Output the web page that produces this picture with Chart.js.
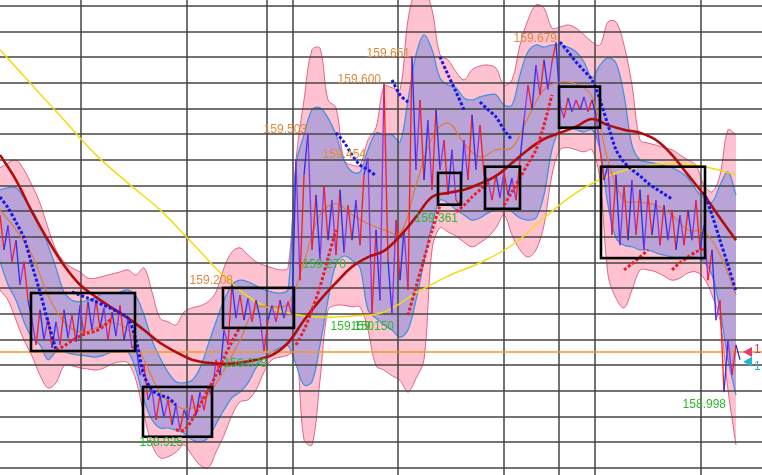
<!DOCTYPE html>
<html><head><meta charset="utf-8">
<script src="https://cdn.jsdelivr.net/npm/chart.js@4.4.0/dist/chart.umd.min.js"></script>
<style>html,body{margin:0;padding:0;background:#fff;overflow:hidden}#wrap{width:762px;height:475px}</style>
</head><body><div id="wrap"><canvas id="c" width="762" height="475"></canvas></div>
<script>
const _ = null;
// time axis: bar index (x) ; value axis: price
const vLines = [20.2, 46.7, 66.7, 73.2, 99.6, 126, 139.8, 148.8, 175.3];
const gridPrices = [158.85,158.90,158.95,159.00,159.05,159.10,159.15,159.20,159.25,159.30,159.35,159.40,159.45,159.50,159.55,159.60,159.65,159.70,159.75];

// envelope bands, one value every 2 bars
const upperOuter = [159.435,159.444,159.450,159.431,159.401,159.366,159.318,159.275,159.252,159.240,159.232,159.220,159.220,159.224,159.228,159.232,159.236,159.226,159.240,159.193,159.142,159.135,159.129,159.154,159.162,159.166,159.174,159.193,159.240,159.271,159.279,159.265,159.252,159.245,159.240,159.236,159.240,
159.450,159.567,159.665,159.668,159.567,159.552,159.450,159.440,159.440,159.489,159.513,159.594,159.591,159.587,159.723,159.781,159.781,159.743,159.655,159.645,159.622,159.606,159.626,159.633,159.635,159.629,159.596,159.606,159.674,159.723,159.752,159.746,159.707,159.709,159.713,159.707,159.694,159.680,159.674,159.719,159.719,159.674,159.596,159.489,159.483,159.479,159.474,159.470,159.460,159.450,159.440,159.401,159.388,159.421,159.509,159.499];
const lowerOuter = [159.197,159.177,159.138,159.099,159.068,159.031,159.006,159.016,159.049,159.049,159.045,159.043,159.041,159.045,159.053,159.057,159.055,159.021,158.953,158.895,158.870,158.872,158.881,158.895,158.875,158.856,158.850,158.881,158.914,158.953,158.979,158.983,159.002,159.037,159.061,159.066,159.070,
159.080,158.905,158.895,159.021,159.158,159.167,159.167,159.164,159.164,159.119,159.049,159.041,159.030,159.021,158.998,159.025,159.061,159.275,159.318,159.310,159.302,159.290,159.281,159.289,159.300,159.318,159.343,159.304,159.275,159.261,159.275,159.323,159.421,159.470,159.474,159.470,159.466,159.470,159.411,159.226,159.181,159.162,159.197,159.236,159.236,159.232,159.224,159.216,159.220,159.230,159.232,159.220,159.187,159.138,159.002,158.895];
const upperInner = [159.392,159.396,159.396,159.376,159.353,159.323,159.284,159.240,159.193,159.177,159.174,159.177,159.183,159.191,159.191,159.193,159.197,159.185,159.148,159.099,159.065,159.037,159.018,159.016,159.021,159.045,159.090,159.135,159.177,159.207,159.216,159.213,159.205,159.197,159.193,159.191,159.197,
159.440,159.499,159.548,159.552,159.532,159.499,159.450,159.427,159.427,159.470,159.503,159.499,159.499,159.485,159.567,159.655,159.694,159.665,159.610,159.596,159.591,159.571,159.567,159.573,159.577,159.577,159.557,159.557,159.616,159.661,159.674,159.670,159.674,159.674,159.670,159.661,159.641,159.610,159.635,159.649,159.639,159.577,159.479,159.450,159.446,159.443,159.439,159.435,159.427,159.415,159.392,159.376,159.368,159.401,159.427,159.382];
const lowerInner = [159.252,159.207,159.177,159.135,159.103,159.090,159.061,159.076,159.076,159.072,159.070,159.068,159.066,159.070,159.076,159.076,159.076,159.041,158.983,158.944,158.928,158.928,158.924,158.918,158.905,158.901,158.909,158.936,158.963,158.987,158.998,159.016,159.045,159.065,159.076,159.084,159.088,
159.051,159.012,159.018,159.090,159.177,159.248,159.263,159.255,159.240,159.158,159.142,159.129,159.119,159.105,159.119,159.177,159.252,159.323,159.372,159.366,159.353,159.343,159.333,159.337,159.347,159.353,159.357,159.349,159.337,159.333,159.337,159.382,159.470,159.509,159.513,159.509,159.505,159.509,159.470,159.362,159.298,159.284,159.281,159.275,159.275,159.269,159.265,159.261,159.261,159.261,159.261,159.252,159.226,159.158,159.061,158.992];

// price swings, one value per bar (alternating highs and lows)
const price = [159.343,159.275,159.323,159.252,159.294,159.207,159.252,159.177,159.138,159.090,
159.158,159.099,159.142,159.084,159.135,159.090,159.158,159.103,159.148,159.096,
159.167,159.109,159.174,159.119,159.177,159.123,159.162,159.099,159.154,159.107,
159.167,159.099,159.138,159.084,159.090,159.031,159.051,158.983,159.002,158.944,
158.992,158.948,158.983,158.934,158.973,158.925,158.963,158.944,158.992,158.953,
158.998,158.963,159.006,158.992,159.061,159.031,159.119,159.090,159.208,159.142,
159.187,159.138,159.181,159.135,159.177,159.142,159.078,159.138,159.167,159.135,
159.177,159.142,159.174,159.148,159.450,159.216,159.421,159.503,159.275,159.382,
159.255,159.401,159.294,159.372,159.265,159.392,159.270,159.362,159.294,159.372,
159.284,159.421,159.454,159.150,159.314,159.177,159.600,159.255,159.150,159.333,
159.216,159.314,159.197,159.651,159.431,159.567,159.411,159.528,159.392,159.548,
159.431,159.489,159.382,159.470,159.372,159.361,159.489,159.411,159.538,159.431,
159.518,159.421,159.411,159.372,159.421,159.376,159.427,159.382,159.415,159.372,
159.450,159.528,159.596,159.548,159.635,159.577,159.645,159.587,159.641,159.679,
159.557,159.532,159.571,159.544,159.567,159.548,159.573,159.544,159.567,159.538,
159.470,159.411,159.440,159.304,159.421,159.284,159.401,159.294,159.411,159.304,
159.392,159.275,159.382,159.304,159.372,159.284,159.362,159.294,159.353,159.275,
159.343,159.284,159.353,159.294,159.372,159.275,159.323,159.216,159.275,159.138,
159.177,158.998,159.099,159.031,159.090,159.061];

// moving averages
const fastMA = [159.353,159.314,159.265,159.187,159.135,159.115,159.123,159.133,159.119,159.061,158.998,158.971,158.967,158.992,159.041,159.099,159.162,159.164,159.170,159.252,159.343,159.365,159.343,159.326,159.314,159.308,159.401,159.493,159.522,159.483,159.456,159.470,159.474,159.532,159.587,159.602,159.598,159.573,159.450,159.372,159.368,159.362,159.343,159.314,159.310,159.265,159.187];
const midMA = [159.460,159.411,159.349,159.294,159.245,159.207,159.183,159.162,159.142,159.119,159.094,159.076,159.061,159.055,159.053,159.055,159.061,159.070,159.094,159.138,159.177,159.211,159.242,159.261,159.273,159.302,159.339,159.378,159.386,159.392,159.404,159.419,159.444,159.470,159.491,159.503,159.515,159.530,159.518,159.509,159.503,159.489,159.460,159.421,159.382,159.337,159.294];
const slowMA = [159.665,159.596,159.528,159.460,159.405,159.353,159.289,159.224,159.174,159.152,159.144,159.146,159.154,159.191,159.224,159.250,159.284,159.337,159.386,159.419,159.437,159.443,159.437,159.421];

// trailing stops (every 2 bars)
const stopDown = [159.378,159.357,159.329,159.298,159.245,159.193,159.135,159.080,_,
159.193,159.187,159.181,159.174,159.167,159.160,159.152,159.142,159.099,159.031,159.002,158.992,158.987,158.973,
_,_,_,_,_,_,_,_,_,_,_,_,_,_,_,_,_,_,_,
159.503,159.485,159.460,159.440,159.431,159.419,_,
159.606,159.577,159.563,_,_,_,
159.651,159.616,159.583,159.548,_,
159.563,159.548,159.534,159.509,159.489,_,_,_,_,_,
159.680,159.661,159.641,159.624,159.606,159.567,159.518,159.470,159.446,159.431,159.419,159.405,159.394,159.384,159.374,_,_,_,
159.388,159.343,159.294,159.245,159.193];
const stopUp = [_,_,_,_,_,_,_,
159.080,159.088,159.098,159.107,159.113,159.117,159.127,159.142,_,_,_,_,_,_,_,
158.924,158.924,158.944,158.973,159.002,159.031,159.065,159.096,159.125,_,_,_,_,_,_,
159.090,159.119,159.158,159.203,159.259,159.314,_,_,_,_,_,_,_,_,
159.148,159.203,159.257,159.312,159.362,_,
159.349,159.362,159.378,159.392,159.407,_,
159.362,159.388,159.415,159.443,159.470,159.518,159.577,_,_,_,_,_,_,_,_,
159.236,159.248,159.261,159.275,_,_,
159.236,159.250,159.261,159.271,159.277,_,_,_,_];

// range boxes
const boxStart = [7.75, 35.75, 55.75, 109.5, 121.25, 139.75, 150.25];
const boxEnd   = [33.75, 53, 73.5, 115.25, 130, 150, 176.25];
const boxHigh  = [159.191, 159.008, 159.201, 159.425, 159.437, 159.593, 159.437];
const boxLow   = [159.078, 158.911, 159.123, 159.363, 159.355, 159.513, 159.259];

// swing labels
const highBars   = [102.5, 95.25, 76.75, 91.5, 58.25, 139.25];
const highPrices = [159.651, 159.600, 159.503, 159.454, 159.208, 159.679];
const lowBars    = [114.5, 86.5, 93.5, 98.5, 66.75, 45.75, 181.5];
const lowPrices  = [159.361, 159.270, 159.150, 159.150, 159.078, 158.925, 158.998];

const currentPrice = 159.076;
const markerPrices = [159.076, 159.059];
const markerTexts = ['1', '1'];
const markerColors = ['#e8386e', '#2ab4d4'];

const X_MAX = 190.5;
function pts(arr, step){ return arr.map((v,i)=>({x:i*step, y:v})); }

const gridPlugin = {
  id:'gridFront',
  afterDatasetDraw(chart, args){
    if (args.index !== 3) return;
    const {ctx, chartArea:a, scales:{x,y}} = chart;
    ctx.save();
    ctx.strokeStyle = '#454545'; ctx.lineWidth = 1.5;
    ctx.beginPath();
    gridPrices.forEach(p=>{ const py=Math.round(y.getPixelForValue(p)); ctx.moveTo(a.left,py); ctx.lineTo(a.right,py); });
    vLines.forEach(v=>{ const px=Math.round(x.getPixelForValue(v)); ctx.moveTo(px,a.top); ctx.lineTo(px,a.bottom); });
    ctx.stroke();
    ctx.restore();
  }
};

const overlayPlugin = {
  id:'overlay',
  afterDatasetsDraw(chart){
    const {ctx, scales:{x,y}} = chart;
    ctx.save();
    ctx.strokeStyle = '#000'; ctx.lineWidth = 2.6;
    boxStart.forEach((s,i)=>{
      const x0=x.getPixelForValue(s), x1=x.getPixelForValue(boxEnd[i]);
      const y0=y.getPixelForValue(boxHigh[i]), y1=y.getPixelForValue(boxLow[i]);
      ctx.strokeRect(x0,y0,x1-x0,y1-y0);
    });
    ctx.font = '12px "Liberation Sans", Arial, sans-serif';
    ctx.textAlign = 'right'; ctx.textBaseline = 'alphabetic';
    ctx.fillStyle = '#e4893a';
    highBars.forEach((b,i)=>{ ctx.fillText(highPrices[i].toFixed(3), x.getPixelForValue(b), y.getPixelForValue(highPrices[i])); });
    ctx.fillStyle = '#2fb82f';
    lowBars.forEach((b,i)=>{ ctx.fillText(lowPrices[i].toFixed(3), x.getPixelForValue(b), y.getPixelForValue(lowPrices[i])+16); });
    ctx.textAlign = 'left';
    markerPrices.forEach((p,i)=>{
      const py = y.getPixelForValue(p) + (i===0?0:1);
      ctx.fillStyle = markerColors[i];
      ctx.beginPath(); ctx.moveTo(743,py); ctx.lineTo(752,py-5); ctx.lineTo(752,py+5); ctx.closePath(); ctx.fill();
      ctx.fillText(markerTexts[i], 754, py + (i===0?1:8));
    });
    ctx.restore();
  }
};

const priceColors = ['#ff1a1a', '#2c2cf0', '#9a2fd6'];

new Chart(document.getElementById('c'), {
  type:'line',
  data:{ datasets:[
    {data:pts(upperOuter,2), borderColor:'#e06486', borderWidth:1, backgroundColor:'#ffc2d0', fill:'+1', tension:0.35, pointRadius:0, order:100},
    {data:pts(lowerOuter,2), borderColor:'#e06486', borderWidth:1, fill:false, tension:0.35, pointRadius:0, order:99},
    {data:pts(upperInner,2), borderColor:'#3d8fe6', borderWidth:1.2, backgroundColor:'#b9a3d7', fill:'+1', tension:0.35, pointRadius:0, order:98},
    {data:pts(lowerInner,2), borderColor:'#3d8fe6', borderWidth:1.2, fill:false, tension:0.35, pointRadius:0, order:97},
    {data:pts(slowMA,8), borderColor:'#f2dc10', borderWidth:1.5, fill:false, tension:0.4, pointRadius:0, order:96},
    {data:[{x:0,y:currentPrice},{x:X_MAX,y:currentPrice}], borderColor:'#f29a22', borderWidth:1.5, fill:false, pointRadius:0, order:95},
    {data:pts(fastMA,4), borderColor:'#e87a2c', borderWidth:1.2, fill:false, tension:0.4, pointRadius:0, order:94},
    {data:pts(price,1), borderColor:'#ff1a1a', borderWidth:1.3, fill:false, tension:0, pointRadius:0, order:93,
      segment:{borderColor: c => priceColors[c.p0DataIndex % 3]}},
    {data:pts(midMA,4), borderColor:'#b00d0d', borderWidth:2.6, fill:false, tension:0.4, pointRadius:0, order:92},
    {data:pts(stopDown,2), borderColor:'#1616e8', borderWidth:3, borderDash:[3,2], fill:false, spanGaps:false, tension:0.3, pointRadius:0, order:91},
    {data:pts(stopUp,2), borderColor:'#ee1c24', borderWidth:3, borderDash:[3,2], fill:false, spanGaps:false, tension:0.3, pointRadius:0, order:90}
  ]},
  options:{
    responsive:false, animation:false, devicePixelRatio:1, events:[],
    layout:{padding:0},
    plugins:{legend:{display:false}, tooltip:{enabled:false}},
    scales:{
      x:{type:'linear', min:0, max:X_MAX, display:false},
      y:{type:'linear', min:158.8365, max:159.7617, display:false}
    }
  },
  plugins:[gridPlugin, overlayPlugin]
});
</script></body></html>
